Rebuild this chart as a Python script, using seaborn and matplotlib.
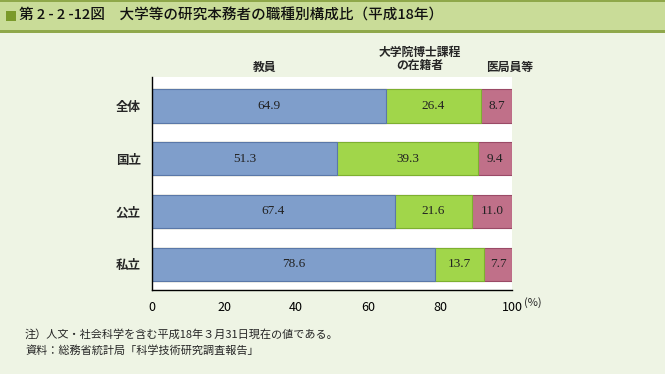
import matplotlib
matplotlib.use("Agg")
import matplotlib.pyplot as plt
import seaborn as sns
import pandas as pd
from matplotlib.patches import Rectangle

sns.set_style("white")
plt.rcParams['font.family'] = ['Noto Sans CJK JP', 'DejaVu Sans']

# data (%)
categories = ["全体", "国立", "公立", "私立"]
faculty = [64.9, 51.3, 67.4, 78.6]      # 教員
doctoral = [26.4, 39.3, 21.6, 13.7]     # 大学院博士課程の在籍者
medical = [8.7, 9.4, 11.0, 7.7]         # 医局員等
xticks = [0, 20, 40, 60, 80, 100]

bg = "#EEF4E4"
col_fac, col_doc, col_med = "#7F9ECB", "#A1D64A", "#C07089"
edge_fac, edge_doc, edge_med = "#5A78A8", "#7DB030", "#9A4A66"

df = pd.DataFrame({"cat": categories, "fac": faculty, "doc": doctoral, "med": medical})
df["c1"] = df["fac"]
df["c2"] = df["fac"] + df["doc"]
df["c3"] = df["c2"] + df["med"]

fig = plt.figure(figsize=(6.65, 3.74), dpi=100)
fig.patch.set_facecolor(bg)

# title band
fig.patches.append(Rectangle((0, 1 - 31 / 374), 1, 31 / 374, transform=fig.transFigure,
                             facecolor="#C9DC98", edgecolor="none", zorder=0))
fig.patches.append(Rectangle((0, 1 - 2 / 374), 1, 2 / 374, transform=fig.transFigure,
                             facecolor="#8FA84A", edgecolor="none", zorder=1))
fig.patches.append(Rectangle((0, 1 - 33 / 374), 1, 3 / 374, transform=fig.transFigure,
                             facecolor="#8FA84A", edgecolor="none", zorder=1))
fig.patches.append(Rectangle((6 / 665, 1 - 21 / 374), 10 / 665, 10 / 374, transform=fig.transFigure,
                             facecolor="#7A9A2A", edgecolor="none", zorder=2))
fig.text(19 / 665, 1 - 16 / 374, "第 2 - 2 -12図　大学等の研究本務者の職種別構成比（平成18年）",
         fontsize=10.5, fontweight="medium", va="center", ha="left", color="#111111")

ax = fig.add_axes([152 / 665, 1 - 290 / 374, 360 / 665, 213 / 374])
ax.set_facecolor("white")

# stacked bars: draw cumulative totals from back to front
sns.barplot(data=df, y="cat", x="c3", orient="h", color=col_med, edgecolor=edge_med,
            linewidth=0.8, width=0.63, saturation=1, ax=ax)
sns.barplot(data=df, y="cat", x="c2", orient="h", color=col_doc, edgecolor=edge_doc,
            linewidth=0.8, width=0.63, saturation=1, ax=ax)
sns.barplot(data=df, y="cat", x="c1", orient="h", color=col_fac, edgecolor=edge_fac,
            linewidth=0.8, width=0.63, saturation=1, ax=ax)

for i, row in df.iterrows():
    for left, w in [(0, row["fac"]), (row["c1"], row["doc"]), (row["c2"], row["med"])]:
        ax.text(left + w / 2, i, f"{w:.1f}", ha="center", va="center",
                fontsize=9.5, family="Liberation Serif", color="#222222")

ax.set_xlim(0, 100)
ax.set_ylim(3.49, -0.55)
ax.set_xticks(xticks)
ax.set_xticklabels([str(t) for t in xticks], fontsize=9)
ax.tick_params(axis="x", direction="in", length=4, pad=8, colors="black")
ax.tick_params(axis="y", length=0, pad=8)
ax.set_yticklabels(categories, fontsize=9, fontweight="bold")
ax.set_xlabel("")
ax.set_ylabel("")
for s in ["top", "right"]:
    ax.spines[s].set_visible(False)
for s in ["left", "bottom"]:
    ax.spines[s].set_color("black")
    ax.spines[s].set_linewidth(1)

# column headers
fig.text(265 / 665, 1 - 67 / 374, "教員", fontsize=8.5, fontweight="bold", ha="center", va="center")
fig.text(420 / 665, 1 - 59 / 374, "大学院博士課程\nの在籍者", fontsize=8.5, fontweight="bold",
         ha="center", va="center", linespacing=1.1)
fig.text(510 / 665, 1 - 67 / 374, "医局員等", fontsize=8.5, fontweight="bold", ha="center", va="center")
fig.text(533 / 665, 1 - 303 / 374, "(%)", fontsize=8, ha="center", va="center")

# notes
fig.text(25 / 665, 1 - 334 / 374, "注）人文・社会科学を含む平成18年３月31日現在の値である。",
         fontsize=8, ha="left", va="center")
fig.text(25 / 665, 1 - 351 / 374, "資料：総務省統計局「科学技術研究調査報告」",
         fontsize=8, ha="left", va="center")

fig.savefig("out.png", dpi=100, facecolor=fig.get_facecolor())
